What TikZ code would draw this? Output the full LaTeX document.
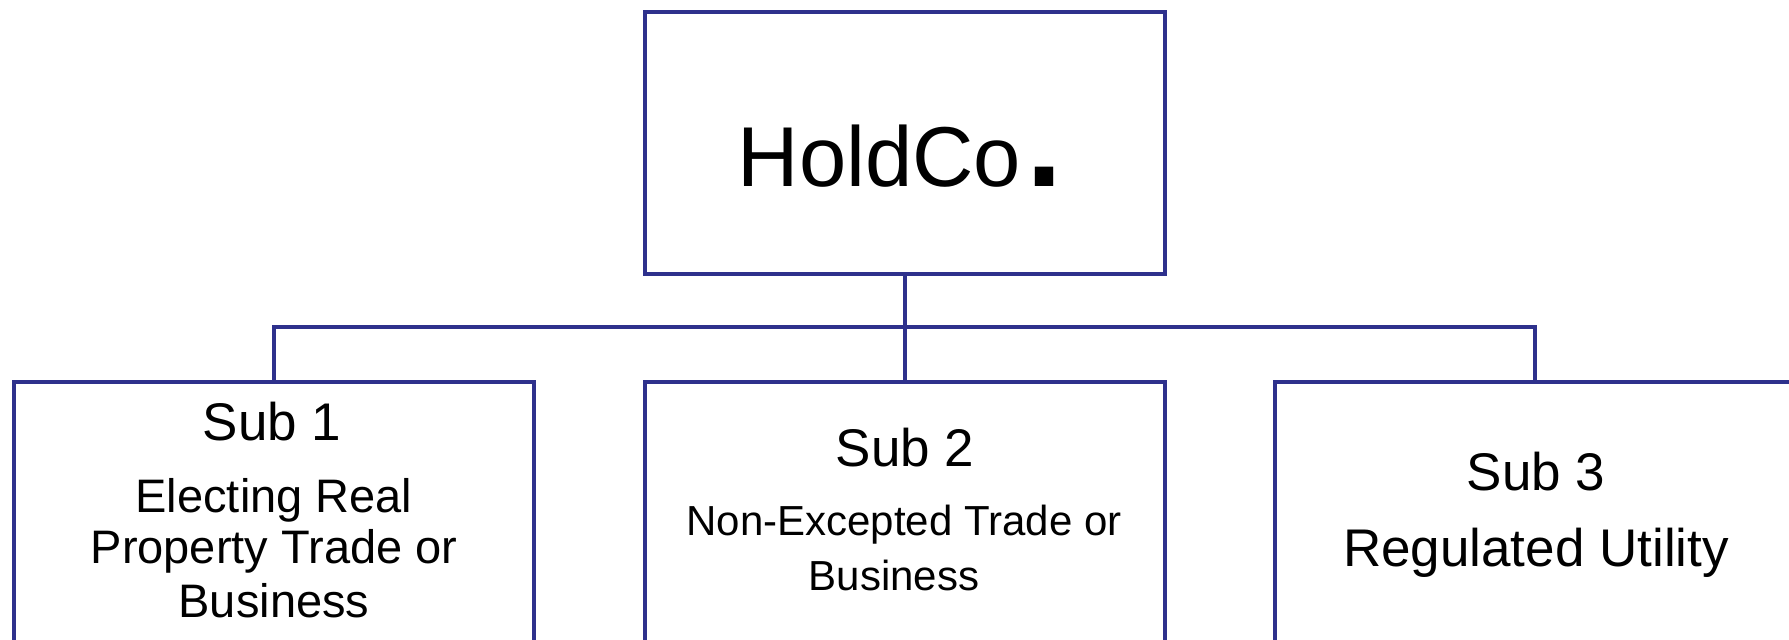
\documentclass[tikz,border=0pt]{standalone}
\usepackage{fontspec}
\setmainfont{Liberation Sans}
\definecolor{navy}{RGB}{46,49,140}
\begin{document}
\begin{tikzpicture}[x=1pt,y=1pt,
  box/.style={draw=navy,line width=4.2pt,rectangle,inner sep=0pt,minimum width=520pt,fill=white},
  conn/.style={draw=navy,line width=4.2pt},
  lbl/.style={anchor=base,inner sep=0pt,text=black}]
\useasboundingbox (0,0) rectangle (1789,-640);
\node[box,minimum height=262pt,anchor=north] (top) at (905,-10) {};
\node[box,minimum height=420pt,anchor=north] (b1) at (274,-380) {};
\node[box,minimum height=420pt,anchor=north] (b2) at (905,-380) {};
\node[box,minimum height=420pt,anchor=north] (b3) at (1535,-380) {};
\coordinate (bus) at (905,-327);
\draw[conn] (top.south) -- (b2.north);
\draw[conn] (b1.north) |- (bus) -| (b3.north);
\node[lbl,font=\fontsize{85}{90}\selectfont] (t0) at (900,-186) {HoldCo{\fontsize{130}{130}\selectfont\bfseries\kern5pt.}};
\node[lbl,font=\fontsize{53}{60}\selectfont] (t1a) at (272,-440) {Sub 1};
\node[lbl,font=\fontsize{47}{52}\selectfont] (t1b) at (274,-512) {Electing Real};
\node[lbl,font=\fontsize{47}{52}\selectfont] (t1c) at (274,-563) {Property Trade or};
\node[lbl,font=\fontsize{47}{52}\selectfont] (t1d) at (274,-617) {Business};
\node[lbl,font=\fontsize{53}{60}\selectfont] (t2a) at (905,-466) {Sub 2};
\node[lbl,font=\fontsize{42}{50}\selectfont] (t2b) at (904,-535) {Non-Excepted Trade or};
\node[lbl,font=\fontsize{42}{50}\selectfont] (t2c) at (894,-590) {Business};
\node[lbl,font=\fontsize{53}{60}\selectfont] (t3a) at (1536,-490) {Sub 3};
\node[lbl,font=\fontsize{53}{60}\selectfont] (t3b) at (1536,-566) {Regulated Utility};
\end{tikzpicture}
\end{document}
